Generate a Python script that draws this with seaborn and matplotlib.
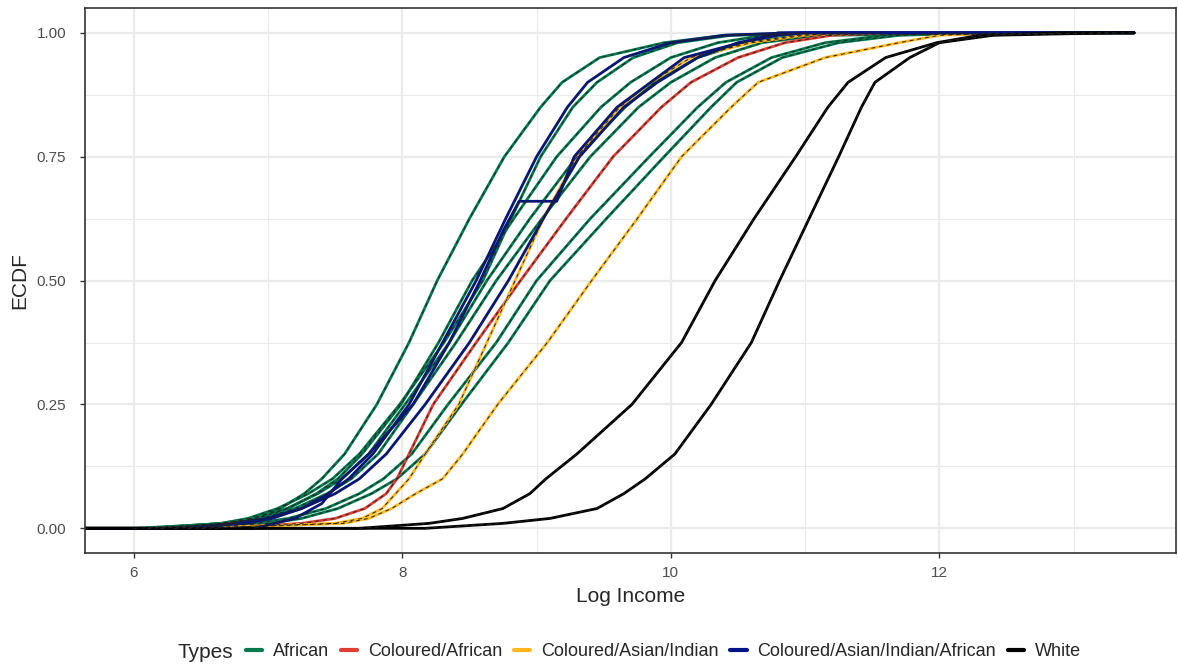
import numpy as np
import pandas as pd
import matplotlib
matplotlib.use('Agg')
import matplotlib.pyplot as plt
from matplotlib.lines import Line2D
from matplotlib.ticker import MultipleLocator, FormatStrFormatter
import seaborn as sns

PROBS = [0.00, 0.01, 0.02, 0.04, 0.07, 0.10, 0.15, 0.25, 0.375, 0.50,
         0.625, 0.75, 0.85, 0.90, 0.95, 0.98, 0.995, 1.00]

african_1 = [6.10, 6.70, 6.89, 7.09, 7.27, 7.40, 7.57, 7.81, 8.05, 8.26,
             8.50, 8.76, 9.03, 9.19, 9.47, 9.95, 10.40, 11.0]
african_2 = [6.20, 6.65, 6.85, 7.07, 7.30, 7.48, 7.68, 7.98, 8.31, 8.60,
             8.81, 9.03, 9.27, 9.45, 9.72, 10.05, 10.45, 11.3]
african_3 = [6.10, 6.65, 6.89, 7.14, 7.37, 7.55, 7.75, 8.02, 8.35, 8.63,
             8.95, 9.30, 9.66, 9.88, 10.20, 10.55, 10.95, 11.3]
african_4 = [6.00, 6.70, 6.95, 7.20, 7.44, 7.62, 7.82, 8.08, 8.40, 8.70,
             9.04, 9.40, 9.76, 10.00, 10.33, 10.68, 11.10, 13.45]
african_5 = [6.30, 6.90, 7.15, 7.43, 7.68, 7.86, 8.07, 8.34, 8.70, 9.00,
             9.40, 9.84, 10.20, 10.41, 10.75, 11.15, 11.60, 12.2]
african_6 = [6.40, 7.00, 7.25, 7.52, 7.77, 7.96, 8.17, 8.44, 8.79, 9.10,
             9.52, 9.95, 10.30, 10.49, 10.83, 11.25, 11.70, 12.4]
african_7 = [6.20, 6.70, 6.92, 7.15, 7.36, 7.52, 7.70, 7.99, 8.27, 8.52,
             8.83, 9.15, 9.48, 9.70, 10.00, 10.35, 10.70, 11.0]
coloured_african = [6.60, 7.25, 7.50, 7.72, 7.88, 7.96, 8.05, 8.23, 8.55, 8.88,
                    9.22, 9.57, 9.93, 10.15, 10.50, 10.85, 11.20, 11.6]
coloured_asian_1 = [6.40, 7.50, 7.70, 7.85, 7.95, 8.05, 8.17, 8.42, 8.63, 8.84,
                    9.05, 9.30, 9.62, 9.85, 10.15, 10.60, 11.00, 11.5]
coloured_asian_2 = [6.50, 7.56, 7.75, 7.92, 8.10, 8.30, 8.45, 8.71, 9.08, 9.41,
                    9.75, 10.08, 10.45, 10.65, 11.15, 11.70, 12.00, 12.6]
mixed_1 = [6.30, 6.83, 7.03, 7.25, 7.45, 7.60, 7.78, 8.05, 8.30, 8.55,
           8.77, 9.00, 9.23, 9.38, 9.65, 10.00, 10.40, 10.9]
mixed_3 = [6.50, 6.75, 6.99, 7.25, 7.50, 7.68, 7.88, 8.17, 8.50, 8.79,
           9.05, 9.32, 9.65, 9.90, 10.20, 10.50, 10.80, 11.0]
white_1 = [7.68, 8.20, 8.45, 8.75, 8.95, 9.07, 9.30, 9.71, 10.08, 10.33,
           10.62, 10.93, 11.17, 11.32, 11.60, 11.98, 12.30, 12.9]
white_2 = [8.17, 8.75, 9.10, 9.45, 9.65, 9.81, 10.03, 10.30, 10.60, 10.81,
           11.03, 11.25, 11.42, 11.52, 11.78, 12.00, 12.40, 13.3]

# small-sample group with coarse steps
MIXED_2_PROBS = [0.00, 0.02, 0.05, 0.10, 0.15, 0.25, 0.375, 0.50, 0.60, 0.66,
                 0.66, 0.75, 0.85, 0.90, 0.95, 1.00]
mixed_2 = [6.90, 7.20, 7.40, 7.55, 7.75, 8.08, 8.35, 8.58, 8.75, 8.87,
           9.15, 9.28, 9.60, 9.85, 10.10, 10.8]

# ecdf lines are padded out to the panel edges
PAD_LO = 5.0
PAD_HI = 13.45

TYPES = ['African', 'Coloured/African', 'Coloured/Asian/Indian',
         'Coloured/Asian/Indian/African', 'White']
COLORS = ['#007A4D', '#E03C31', '#FFB81C', '#001489', '#000000']

curves = [
    ('African', african_1, PROBS), ('African', african_2, PROBS),
    ('African', african_3, PROBS), ('African', african_4, PROBS),
    ('African', african_5, PROBS), ('African', african_6, PROBS),
    ('African', african_7, PROBS),
    ('Coloured/African', coloured_african, PROBS),
    ('Coloured/Asian/Indian', coloured_asian_1, PROBS),
    ('Coloured/Asian/Indian', coloured_asian_2, PROBS),
    ('Coloured/Asian/Indian/African', mixed_1, PROBS),
    ('Coloured/Asian/Indian/African', mixed_2, MIXED_2_PROBS),
    ('Coloured/Asian/Indian/African', mixed_3, PROBS),
    ('White', white_1, PROBS), ('White', white_2, PROBS),
]

rows, fit_rows = [], []
for cid, (typ, xs, ps) in enumerate(curves):
    pts = [(PAD_LO, 0.0)] + list(zip(xs, ps)) + [(PAD_HI, 1.0)]
    for x, p in pts:
        rows.append({'curve': cid, 'Types': typ, 'x': x, 'ecdf': p})
    for x, p in zip(xs, ps):
        fit_rows.append({'curve': cid, 'x': x, 'ecdf': p})
df = pd.DataFrame(rows)
df_fit = pd.DataFrame(fit_rows)

sns.set_style('white')
plt.rcParams['font.family'] = ['Liberation Sans', 'DejaVu Sans']

fig, ax = plt.subplots(figsize=(11.78, 6.68), dpi=100)
fig.subplots_adjust(left=0.072, right=0.998, top=0.988, bottom=0.172)

sns.lineplot(data=df, x='x', y='ecdf', hue='Types', hue_order=TYPES,
             palette=COLORS, units='curve', estimator=None, sort=False,
             linewidth=2.0, legend=False, ax=ax)
sns.lineplot(data=df_fit, x='x', y='ecdf', units='curve', estimator=None,
             sort=False, color='#222222', linewidth=0.7, linestyle=(0, (4, 4)),
             legend=False, ax=ax)

ax.set_xlim(5.635, 13.76)
ax.set_ylim(-0.05, 1.05)
ax.xaxis.set_major_locator(MultipleLocator(2))
ax.xaxis.set_minor_locator(MultipleLocator(1))
ax.yaxis.set_major_locator(MultipleLocator(0.25))
ax.yaxis.set_minor_locator(MultipleLocator(0.125))
ax.yaxis.set_major_formatter(FormatStrFormatter('%.2f'))
ax.grid(which='major', color='#EBEBEB', linewidth=1.6, zorder=0)
ax.grid(which='minor', color='#EBEBEB', linewidth=0.8, zorder=0)
ax.set_axisbelow(True)
for s in ax.spines.values():
    s.set_color('#333333')
    s.set_linewidth(1.2)
ax.tick_params(which='major', direction='out', length=3.5, width=1, color='#333333',
               labelsize=11, labelcolor='#4D4D4D', bottom=True, left=True, pad=6)
ax.tick_params(axis='y', which='major', pad=10)
ax.tick_params(which='minor', length=0)
ax.set_xlabel('Log Income', fontsize=15, labelpad=5)
ax.set_ylabel('ECDF', fontsize=15, labelpad=5)

handles = [Line2D([0], [0], color=c, lw=3) for c in COLORS]
fig.text(177 / 1178, 1 - 653 / 668, 'Types', fontsize=15, va='center', ha='left')
fig.legend(handles, TYPES, loc='center left', bbox_to_anchor=(246 / 1178, 1 - 652 / 668),
           ncol=5, frameon=False, fontsize=13, handlelength=0.9, handletextpad=0.6,
           columnspacing=0.65, borderaxespad=0, borderpad=0)

fig.savefig('out.png', dpi=100)
